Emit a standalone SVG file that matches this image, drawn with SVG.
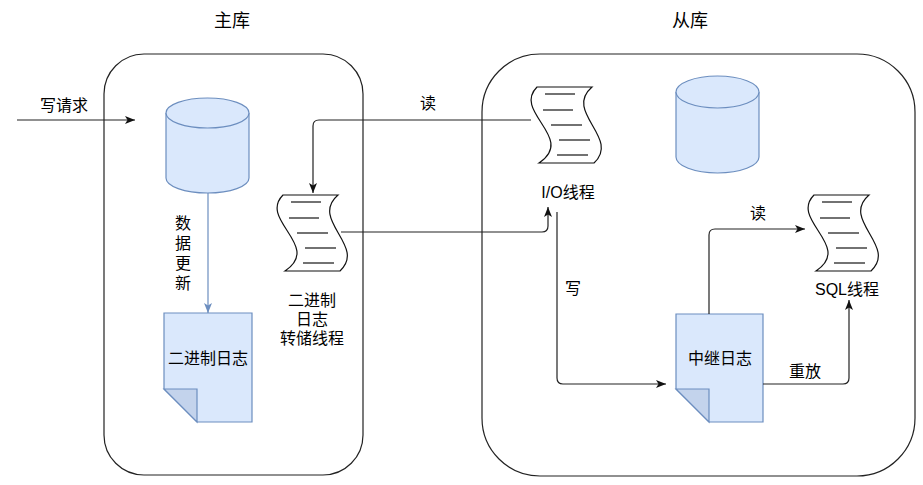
<svg xmlns="http://www.w3.org/2000/svg" xmlns:xlink="http://www.w3.org/1999/xlink" width="923" height="485" viewBox="0 0 923 485">
<style>
text{font-family:"Liberation Sans","Noto Sans CJK SC",sans-serif;font-size:16px;fill:#000;text-anchor:middle;dominant-baseline:central}
.title{font-size:18px}
.box{fill:none;stroke:#222;stroke-width:1.2}
.cyl{fill:#dae8fc;stroke:#6c8ebf;stroke-width:1.2}
.doc{fill:#dae8fc;stroke:#6c8ebf;stroke-width:1.2}
.fold{fill:#c3d3ec;stroke:#6c8ebf;stroke-width:1.2}
.edge{fill:none;stroke:#222;stroke-width:1.2}
.blue{fill:none;stroke:#6c8ebf;stroke-width:1.2}
.sc{fill:#fff;stroke:#111;stroke-width:1.2}
.scl{stroke:#444;stroke-width:1.5}
</style>
<defs>
<marker id="arr" viewBox="0 0 10 8" markerWidth="10" markerHeight="8" refX="10" refY="4" orient="auto" markerUnits="userSpaceOnUse"><path d="M0,0 L10,4 L0,8 L2.5,4 Z" fill="#111"/></marker>
<marker id="arrb" viewBox="0 0 10 8" markerWidth="10" markerHeight="8" refX="10" refY="4" orient="auto" markerUnits="userSpaceOnUse"><path d="M0,0 L10,4 L0,8 L2.5,4 Z" fill="#6c8ebf"/></marker>
<g id="scroll">
<path class="sc" d="M5,0 L60,0 C31,25 89,51 62,76 L7,76 C44.5,51 -20,25 5,0 Z"/>
<path class="scl" d="M13,7 H43 M11,23 H41 M19,38 H50 M27,53 H58 M25,68 H56"/>
</g>
</defs>

<g id="master">
<rect class="box" x="104" y="54" width="259" height="421" rx="40" ry="40"/>
<text class="title" x="232" y="21">主库</text>
</g>
<g id="slave">
<rect class="box" x="482" y="54" width="433" height="422" rx="58" ry="58"/>
<text class="title" x="690" y="21">从库</text>
</g>

<g id="master-db">
<path class="cyl" d="M166,113 A41.5,15 0 0 1 249,113 L249,178 A41.5,15 0 0 1 166,178 Z"/>
<path class="cyl" fill="none" d="M166,113 A41.5,15 0 0 0 249,113"/>
</g>
<g id="slave-db">
<path class="cyl" d="M676,92 A41.5,16 0 0 1 759,92 L759,157 A41.5,16 0 0 1 676,157 Z"/>
<path class="cyl" fill="none" d="M676,92 A41.5,16 0 0 0 759,92"/>
</g>

<g id="binlog">
<path class="doc" d="M164,313 H252 V422 H197 L164,389 Z"/>
<path class="fold" d="M164,389 H197 V422 Z"/>
<text x="208" y="358">二进制日志</text>
</g>
<g id="relaylog">
<path class="doc" d="M676,314 H763 V422 H709 L676,389 Z"/>
<path class="fold" d="M676,389 H709 V422 Z"/>
<text x="720" y="358">中继日志</text>
</g>

<g id="dump-thread">
<use xlink:href="#scroll" x="278" y="195"/>
<text x="312" y="300">二进制</text>
<text x="312" y="319">日志</text>
<text x="312" y="338">转储线程</text>
</g>
<g id="io-thread">
<use xlink:href="#scroll" x="532" y="87"/>
<text x="568" y="192">I/O线程</text>
</g>
<g id="sql-thread">
<use xlink:href="#scroll" x="809" y="195"/>
<text x="847" y="289">SQL线程</text>
</g>

<g id="connectors">
<path class="edge" marker-end="url(#arr)" d="M17,120 L135,120"/>
<text x="64" y="105">写请求</text>
<path class="blue" marker-end="url(#arrb)" d="M208,193 L208,313"/>
<text x="183" y="223">数</text>
<text x="183" y="243">据</text>
<text x="183" y="263">更</text>
<text x="183" y="283">新</text>
<path class="edge" marker-end="url(#arr)" d="M531,120 L319,120 Q313,120 313,126 L313,193"/>
<text x="428" y="103">读</text>
<path class="edge" marker-end="url(#arr)" d="M341,232 L542,232 Q548,232 548,226 L548,207"/>
<path class="edge" marker-end="url(#arr)" d="M557,212 L557,378 Q557,384 563,384 L666,384"/>
<text x="573" y="288">写</text>
<path class="edge" marker-end="url(#arr)" d="M709,314 L709,235 Q709,229 715,229 L805,229"/>
<text x="758" y="213">读</text>
<path class="edge" marker-end="url(#arr)" d="M763,384 L843,384 Q849,384 849,378 L849,300"/>
<text x="805" y="371">重放</text>
</g>
</svg>
